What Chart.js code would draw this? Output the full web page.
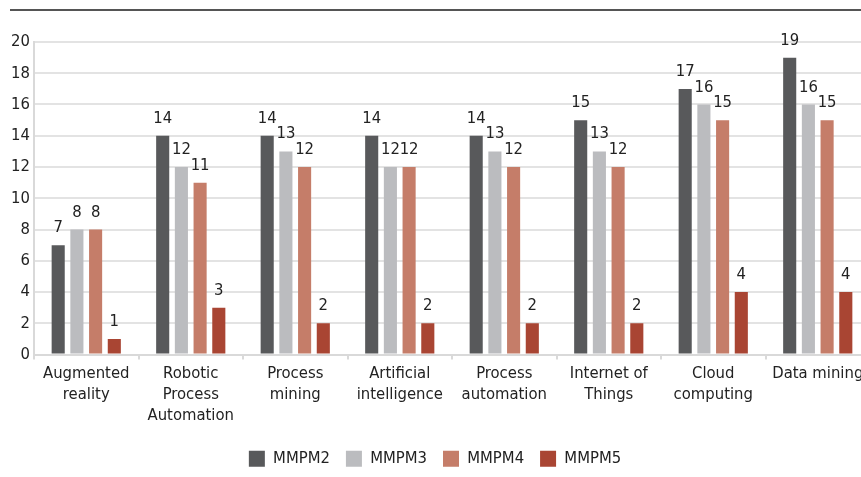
<!DOCTYPE html>
<html>
<head>
<meta charset="utf-8">
<script src="https://cdn.jsdelivr.net/npm/chart.js@4"></script>
<style>
  html, body { margin: 0; padding: 0; background: #fff; overflow: hidden; }
  #wrap { position: relative; width: 861px; height: 477px; overflow: hidden; }
  #topRule { position: absolute; left: 10px; top: 9px; width: 860px; height: 2px; background: #555; }
  #myChart { position: absolute; left: 0; top: 0; }
</style>
</head>
<body>
<div id="wrap">
  <div id="topRule"></div>
  <canvas id="myChart" width="870" height="477"></canvas>
</div>
<script>
var categories = [
  ['Augmented', 'reality'],
  ['Robotic', 'Process', 'Automation'],
  ['Process', 'mining'],
  ['Artificial', 'intelligence'],
  ['Process', 'automation'],
  ['Internet of', 'Things'],
  ['Cloud', 'computing'],
  'Data mining'
];
var mmpm2 = [7, 14, 14, 14, 14, 15, 17, 19];
var mmpm3 = [8, 12, 13, 12, 13, 13, 16, 16];
var mmpm4 = [8, 11, 12, 12, 12, 12, 15, 15];
var mmpm5 = [1, 3, 2, 2, 2, 2, 4, 4];
var yTicks = [0, 2, 4, 6, 8, 10, 12, 14, 16, 18, 20];

var FONT = "'DejaVu Sans Condensed', 'Liberation Sans Narrow', sans-serif";
var FSIZE = 16.5;

// value above each bar
var barValues = {
  id: 'barValues',
  afterDatasetsDraw: function (chart) {
    var ctx = chart.ctx;
    ctx.save();
    ctx.font = FSIZE + 'px ' + FONT;
    ctx.fillStyle = '#222';
    ctx.textAlign = 'center';
    ctx.textBaseline = 'alphabetic';
    chart.data.datasets.forEach(function (ds, i) {
      chart.getDatasetMeta(i).data.forEach(function (bar, j) {
        ctx.fillText(ds.data[j], bar.x, bar.y - 13);
      });
    });
    ctx.restore();
  }
};

var ctx = document.getElementById('myChart').getContext('2d');
var myChart = new Chart(ctx, {
  type: 'bar',
  data: {
    labels: categories,
    datasets: [
      { label: 'MMPM2', data: mmpm2, backgroundColor: '#58595b' },
      { label: 'MMPM3', data: mmpm3, backgroundColor: '#bbbcbf' },
      { label: 'MMPM4', data: mmpm4, backgroundColor: '#c57d69' },
      { label: 'MMPM5', data: mmpm5, backgroundColor: '#a94533' }
    ]
  },
  options: {
    responsive: false,
    animation: false,
    categoryPercentage: 0.716,
    barPercentage: 0.7,
    layout: { padding: { top: 42, left: 0, right: 0, bottom: 0 } },
    plugins: {
      legend: {
        position: 'bottom',
        labels: {
          boxWidth: 16,
          boxHeight: 16,
          padding: 16,
          color: '#222',
          font: { family: FONT, size: FSIZE }
        }
      },
      tooltip: { enabled: false }
    },
    scales: {
      x: {
        afterFit: function (scale) { scale.height = 80; },
        grid: {
          offset: true,
          drawOnChartArea: false,
          tickLength: 5,
          color: '#d9d9d9',
          lineWidth: 2
        },
        border: { color: '#d9d9d9', width: 2 },
        ticks: {
          color: '#222',
          padding: 3,
          maxRotation: 0,
          autoSkip: false,
          font: { family: FONT, size: FSIZE, lineHeight: 1.3 }
        }
      },
      y: {
        min: 0,
        max: 20,
        afterFit: function (scale) { scale.width = 34; },
        afterBuildTicks: function (scale) {
          scale.ticks = yTicks.map(function (v) { return { value: v }; });
        },
        grid: {
          color: '#e3e3e3',
          lineWidth: 2,
          drawTicks: false
        },
        border: { color: '#d9d9d9', width: 2 },
        ticks: {
          color: '#222',
          padding: 4,
          font: { family: FONT, size: FSIZE }
        }
      }
    }
  },
  plugins: [barValues]
});
</script>
</body>
</html>
